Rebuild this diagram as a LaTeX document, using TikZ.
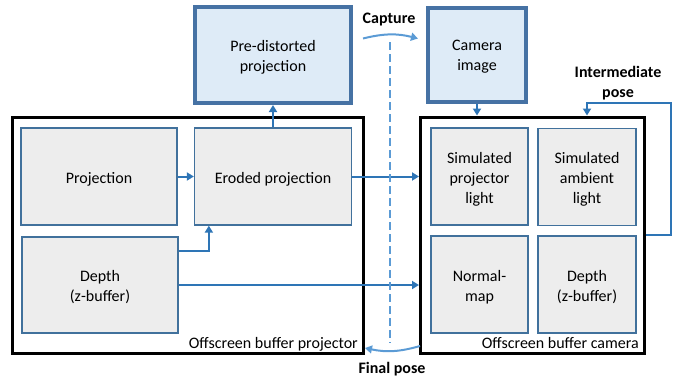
\documentclass[tikz,border=0pt]{standalone}
\usepackage{fontspec}
\setmainfont{Carlito}
\usetikzlibrary{arrows.meta,calc}

\definecolor{boxfill}{HTML}{EDEDED}
\definecolor{boxline}{HTML}{41719C}
\definecolor{topfill}{HTML}{DEEBF7}
\definecolor{topline}{HTML}{4672A4}
\definecolor{connblue}{HTML}{2E75B6}
\definecolor{lightblue}{HTML}{5B9BD5}

\tikzset{
  txt/.style={font=\fontsize{16pt}{20pt}\selectfont, align=center, inner sep=0pt},
  % box text sits slightly below the geometric centre
  boxtext/.style={label={[txt, yshift=-2.5pt]center:{#1}}},
  gbox/.style={draw=boxline, fill=boxfill, line width=1.3pt, inner sep=0pt, boxtext={#1}},
  tbox/.style={draw=topline, fill=topfill, line width=4pt, inner sep=0pt, boxtext={#1}},
  outer/.style={draw=black, line width=3pt, inner sep=0pt},
  conn/.style={draw=connblue, line width=2pt, -{Triangle[length=7pt,width=8pt]}},
  lconn/.style={draw=lightblue, line width=2pt, -{Triangle[length=7pt,width=8pt]}},
  blabel/.style={txt, font=\fontsize{16pt}{20pt}\selectfont\bfseries},
}

\begin{document}
\begin{tikzpicture}[x=1pt,y=-1pt]
  \useasboundingbox (0,0) rectangle (677,383);

  % enclosing offscreen buffers
  \node[outer, minimum width=350.5pt, minimum height=236pt] (outerL) at (187.75,235) {};
  \node[outer, minimum width=223.5pt, minimum height=236pt] (outerR) at (532.25,235) {};

  % projector buffer contents
  \node[gbox={Projection}, minimum width=156pt, minimum height=97pt] (proj) at (99,176.5) {};
  \node[gbox={Eroded projection}, minimum width=157pt, minimum height=97pt] (eroded) at (273,176.5) {};
  \node[gbox={Depth\\(z-buffer)}, minimum width=156pt, minimum height=96pt] (depthL) at (100,285) {};
  \node[txt, anchor=base east] (labL) at (358,348) {Offscreen buffer projector};

  % camera buffer contents
  \node[gbox={Simulated\\projector\\light}, minimum width=97pt, minimum height=97pt] (simproj) at (479.5,176.5) {};
  \node[gbox={Simulated\\ambient\\light}, minimum width=98pt, minimum height=97pt] (ambient) at (587,177) {};
  \node[gbox={Normal-\\map}, minimum width=97pt, minimum height=97pt] (normal) at (479.5,284.5) {};
  \node[gbox={Depth\\(z-buffer)}, minimum width=98pt, minimum height=97pt] (depthR) at (587,284.5) {};
  \node[txt, anchor=base east] (labR) at (639,348) {Offscreen buffer camera};

  % images exchanged with the real world
  \node[tbox={Pre-distorted\\projection}, minimum width=156pt, minimum height=96pt] (predist) at (273,55) {};
  \node[tbox={Camera\\image}, minimum width=98pt, minimum height=94pt] (camimg) at (477,54.5) {};

  % labels of the loop
  \node[blabel] (capture)   at (389,20)  {Capture};
  \node[blabel] (finalpose) at (392,369.5) {Final pose};
  \node[blabel] (interpose) at (618,83)  {Intermediate\\pose};

  % free ends
  \coordinate (dtop) at (390,42);
  \coordinate (dbot) at (390,343);
  \coordinate (capL) at (363,38.5);
  \coordinate (capR) at (418,38.5);
  \coordinate (finR) at (420,346);
  \coordinate (finL) at (365,348);
  \coordinate (ipose) at (671,103);

  % connectors
  \draw[conn] (proj.east) -- (eroded.west);
  \draw[conn] ([yshift=-15pt]depthL.north east) -| ([xshift=15pt]eroded.south west);
  \draw[conn] (eroded.north) -- (predist.south);
  \draw[conn] (eroded.east) -- (eroded.east -| outerR.west);
  \draw[conn] (depthL.east) -- (depthL.east -| outerR.west);
  \draw[conn] (camimg.south) -- (camimg.south |- outerR.north);
  \draw[conn] (outerR.east) -| (ipose) -| (ambient.north |- outerR.north);

  % capture / final pose
  \draw[lightblue, line width=2pt, dash pattern=on 8pt off 4pt] (dtop) -- (dbot);
  \draw[lconn] (capL) to[bend left=14] (capR);
  \draw[lconn] (finR) to[bend left=14] (finL);
\end{tikzpicture}
\end{document}
